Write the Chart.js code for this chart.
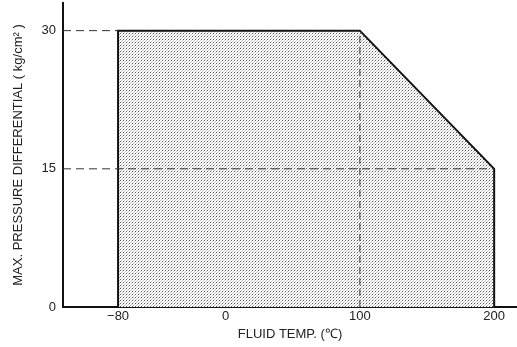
<!DOCTYPE html>
<html>
<head>
<meta charset="utf-8">
<script src="https://cdn.jsdelivr.net/npm/chart.js@4.4.1/dist/chart.umd.min.js"></script>
<style>
  html, body { margin: 0; padding: 0; background: #fff; }
  canvas { display: block; }
</style>
</head>
<body>
<canvas id="chart" width="517" height="347"></canvas>
<script>
// Operating range outline (fluid temp in °C, max pressure differential in kg/cm²)
const tempOutline = [-80, -80, 100, 200, 200];
const pressureOutline = [0, 30, 30, 15, 0];

// Dashed reference lines
const hGuideY = [30, 15];
const hGuideEndX = [-80, 200];
const vGuideX = [100];
const vGuideTopY = [30];

// Tick labels
const xTickValues = [-80, 0, 100, 200];
const yTickValues = [0, 15, 30];

const xMin = -121, xMax = 217;
const yMin = 0, yMax = 33;

const canvas = document.getElementById('chart');
const ctx = canvas.getContext('2d');

// Stippled fill like the printed original
function makeStipple() {
  const c = document.createElement('canvas');
  c.width = 3; c.height = 3;
  const g = c.getContext('2d');
  g.fillStyle = '#ffffff';
  g.fillRect(0, 0, 3, 3);
  g.fillStyle = '#5a5a5a';
  g.fillRect(0, 0, 1, 1);
  g.fillStyle = '#c4c4c4';
  g.fillRect(1, 2, 1, 1);
  g.fillRect(2, 1, 1, 1);
  return ctx.createPattern(c, 'repeat');
}

const outline = tempOutline.map((t, i) => ({ x: t, y: pressureOutline[i] }));

const guides = [];
hGuideY.forEach((y, i) => {
  guides.push({ data: [{ x: xMin, y: y }, { x: hGuideEndX[i], y: y }], dash: [8, 5] });
});
vGuideX.forEach((x, i) => {
  guides.push({ data: [{ x: x, y: yMin }, { x: x, y: vGuideTopY[i] }], dash: [7, 4] });
});

const font = { family: '"Liberation Sans", Arial, sans-serif', size: 13 };

const datasets = [{
  data: outline,
  showLine: true,
  fill: 'origin',
  backgroundColor: makeStipple(),
  borderColor: '#111',
  borderWidth: 2,
  pointRadius: 0,
  tension: 0,
  order: 2
}];
guides.forEach(g => {
  datasets.push({
    data: g.data,
    showLine: true,
    fill: false,
    borderColor: '#333',
    borderWidth: 1,
    borderDash: g.dash,
    pointRadius: 0,
    order: 1
  });
});

new Chart(ctx, {
  type: 'scatter',
  data: { datasets: datasets },
  options: {
    responsive: false,
    animation: false,
    layout: { padding: { top: 3, right: 0, left: 0, bottom: 0 } },
    plugins: {
      legend: { display: false },
      tooltip: { enabled: false }
    },
    scales: {
      x: {
        type: 'linear',
        min: xMin,
        max: xMax,
        afterBuildTicks: axis => { axis.ticks = xTickValues.map(v => ({ value: v })); },
        afterFit: scale => {
          scale.height = 40;
          scale.paddingLeft = 0;
          scale.paddingRight = 0;
        },
        grid: { display: false, drawTicks: false },
        border: { display: true, color: '#111', width: 2 },
        ticks: {
          color: '#222',
          font: font,
          padding: 2,
          maxRotation: 0,
          autoSkip: false,
          callback: v => v < 0 ? '\u2212' + Math.abs(v) : String(v)
        },
        title: {
          display: true,
          text: 'FLUID TEMP. (\u2103)',
          color: '#222',
          font: font,
          padding: { top: 0, bottom: 5 }
        }
      },
      y: {
        type: 'linear',
        min: yMin,
        max: yMax,
        afterBuildTicks: axis => { axis.ticks = yTickValues.map(v => ({ value: v })); },
        afterFit: scale => {
          scale.width = 63;
          scale.paddingTop = 0;
          scale.paddingBottom = 0;
        },
        grid: { display: false, drawTicks: false },
        border: { display: true, color: '#111', width: 2 },
        ticks: {
          color: '#222',
          font: font,
          padding: 7,
          autoSkip: false
        },
        title: {
          display: true,
          text: 'MAX. PRESSURE DIFFERENTIAL ( kg/cm\u00B2 )',
          color: '#222',
          font: font,
          padding: { top: 11, bottom: 0 }
        }
      }
    }
  }
});
</script>
</body>
</html>
